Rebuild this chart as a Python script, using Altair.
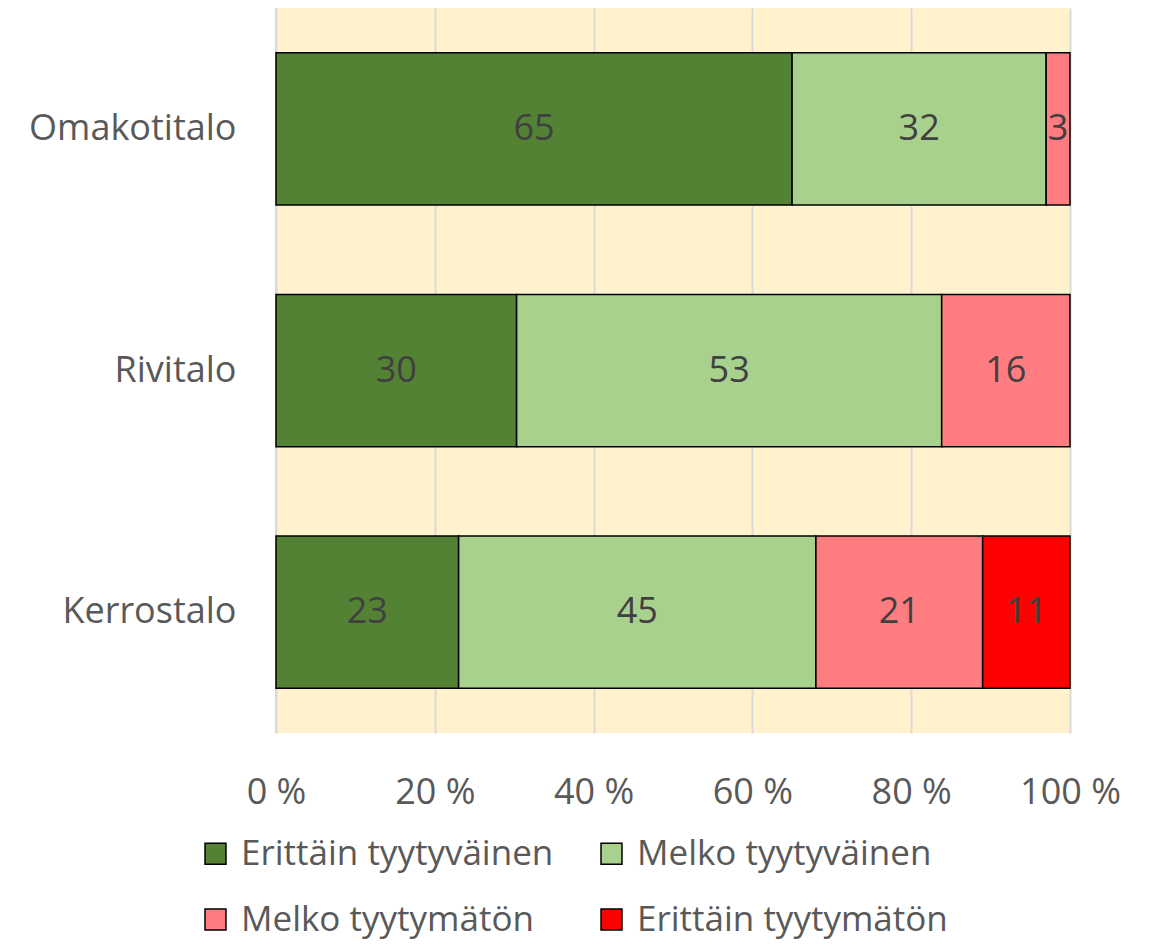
import altair as alt
import pandas as pd

categories = ["Omakotitalo", "Omakotitalo", "Omakotitalo",
              "Rivitalo", "Rivitalo", "Rivitalo",
              "Kerrostalo", "Kerrostalo", "Kerrostalo", "Kerrostalo"]
responses = ["Erittäin tyytyväinen", "Melko tyytyväinen", "Melko tyytymätön",
             "Erittäin tyytyväinen", "Melko tyytyväinen", "Melko tyytymätön",
             "Erittäin tyytyväinen", "Melko tyytyväinen", "Melko tyytymätön", "Erittäin tyytymätön"]
values = [65, 32, 3, 30, 53, 16, 23, 45, 21, 11]

cat_order = ["Omakotitalo", "Rivitalo", "Kerrostalo"]
resp_order = ["Erittäin tyytyväinen", "Melko tyytyväinen", "Melko tyytymätön", "Erittäin tyytymätön"]
resp_colors = {"Erittäin tyytyväinen": "#548235", "Melko tyytyväinen": "#A9D18E",
               "Melko tyytymätön": "#FF7C80", "Erittäin tyytymätön": "#FF0000"}
# legend is laid out column by column; this order gives the reference's row-wise reading
legend_order = ["Erittäin tyytyväinen", "Melko tyytymätön", "Melko tyytyväinen", "Erittäin tyytymätön"]
tick_values = [0, 0.2, 0.4, 0.6, 0.8, 1.0]

df = pd.DataFrame({"cat": categories, "resp": responses, "value": values})
df["ord"] = df["resp"].map({r: i for i, r in enumerate(resp_order)})

FONT = "Open Sans"
FS = 36

base = alt.Chart(df).transform_stack(
    stack="value", groupby=["cat"], as_=["x0", "x1"],
    sort=[alt.SortField("ord", order="ascending")], offset="normalize"
).transform_calculate(mid="(datum.x0 + datum.x1) / 2")

yenc = alt.Y("cat:N", sort=cat_order, title=None,
             scale=alt.Scale(paddingInner=0.37, paddingOuter=0.185),
             axis=alt.Axis(labelFontSize=FS, labelColor="#595959", labelFont=FONT,
                           labelPadding=40, ticks=False, domain=False, labelLimit=400))

bars = base.mark_bar(stroke="black", strokeWidth=1.5).encode(
    x=alt.X("x0:Q", title=None, scale=alt.Scale(domain=[0, 1], nice=False),
            axis=alt.Axis(values=tick_values,
                          labelExpr="round(datum.value*100) + ' %'",
                          labelFontSize=FS, labelColor="#595959", labelFont=FONT,
                          labelPadding=42, ticks=False, domain=False,
                          labelFlush=False, labelOverlap=False,
                          grid=True, gridColor="#D9D9D9", gridWidth=2)),
    x2="x1:Q",
    y=yenc,
    color=alt.Color("resp:N",
                    scale=alt.Scale(domain=legend_order,
                                    range=[resp_colors[r] for r in legend_order]),
                    legend=alt.Legend(title=None, orient="none", legendX=-78, legendY=828,
                                      columns=2, symbolType="square", symbolSize=440,
                                      symbolStrokeColor="black", symbolStrokeWidth=1.5,
                                      labelFontSize=35, labelColor="#595959", labelFont=FONT,
                                      labelOffset=8, rowPadding=30, columnPadding=40,
                                      labelLimit=500)),
    order=alt.Order("ord:Q"),
)

leftline = alt.Chart(df).mark_rule(color="#D9D9D9", strokeWidth=2).encode(
    x=alt.datum(0)
)

texts = base.mark_text(fontSize=FS, color="#404040", font=FONT).encode(
    x=alt.X("mid:Q"),
    y=alt.Y("cat:N", sort=cat_order),
    text=alt.Text("value:Q"),
)

chart = alt.layer(leftline, bars, texts).properties(
    width=794, height=725,
    autosize="none",
    padding={"left": 268, "top": 0, "right": 60, "bottom": 207},
).configure_view(fill="#FFF2CC", stroke=None)

chart.save("out.html", embed_options={"renderer": "svg", "actions": False})
